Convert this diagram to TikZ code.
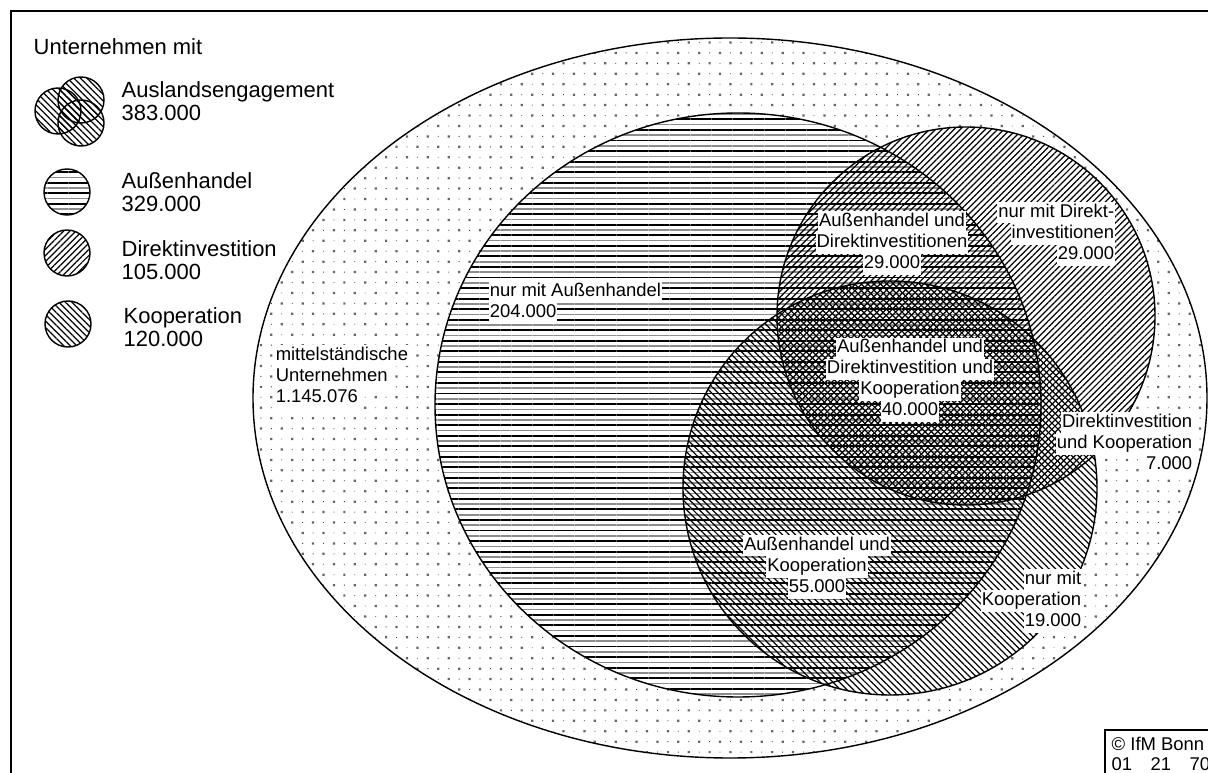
\documentclass[tikz,border=0pt]{standalone}
\usepackage{fontspec}
\setmainfont{Liberation Sans}
\usetikzlibrary{patterns.meta}

\setlength{\fboxsep}{0pt}
\newcommand{\hl}[1]{\colorbox{white}{\hspace{0.6pt}\strut#1\hspace{0.6pt}}}

\begin{document}
\begin{tikzpicture}[x=0.02cm, y=-0.02cm, line width=0.8pt]

\tikzstyle{mittel}=[pattern={Dots[angle=45, distance=8.4pt, radius=0.9pt]}, pattern color=black!60]
\tikzstyle{mittelfein}=[pattern={Dots[angle=45, distance=8.4pt, radius=0.35pt, xshift=5.94pt]}, pattern color=black!75]
\tikzstyle{aussen}=[pattern={Lines[angle=0, distance=6pt, line width=1.1pt]}]
\tikzstyle{aussengrau}=[pattern={Lines[angle=0, distance=6pt, line width=0.9pt, yshift=3pt]}, pattern color=black!45]
\tikzstyle{direkt}=[pattern={Lines[angle=45, distance=2.5pt, line width=0.7pt]}]
\tikzstyle{koop}=[pattern={Lines[angle=-45, distance=2.6pt, line width=0.7pt]}]
\tikzstyle{feld}=[inner sep=0pt, align=center, font=\fontsize{10.5}{12}\selectfont]
\tikzstyle{legende}=[inner sep=0pt, anchor=west, align=left, font=\fontsize{12.5}{13}\selectfont]

\useasboundingbox (0,0) rectangle (1208,773);
\draw (11,790) -- (11,11) -- (1220,11);

% centres of the sets
\coordinate (mittel) at (730,398);
\coordinate (aussen) at (738,405);
\coordinate (direkt) at (966,316);
\coordinate (koop) at (890,488);

% mittelstaendische Unternehmen
\path[mittel] (mittel) ellipse [x radius=477, y radius=360];
\path[mittelfein] (mittel) ellipse [x radius=477, y radius=360];

% the three sets, blank first, then hatched on top of each other
\fill[white] (aussen) ellipse [x radius=303, y radius=292];
\fill[white] (direkt) circle [radius=189];
\fill[white] (koop) circle [radius=207];
\path[aussengrau] (aussen) ellipse [x radius=303, y radius=292];
\path[aussen] (aussen) ellipse [x radius=303, y radius=292];
\path[direkt] (direkt) circle [radius=189];
\path[koop] (koop) circle [radius=207];

\draw (mittel) ellipse [x radius=477, y radius=360];
\draw (aussen) ellipse [x radius=303, y radius=292];
\draw (direkt) circle [radius=189];
\draw (koop) circle [radius=207];

% numbers
\node [feld, align=left, anchor=west] (n-mittel) at (274,377) {\hl{mittelständische}\\\hl{Unternehmen}\\\hl{1.145.076}};
\node [feld, align=left, anchor=west] (n-a) at (488,303) {\hl{nur mit Außenhandel}\\\hl{204.000}};
\node [feld] (n-ad) at (892,243) {\hl{Außenhandel und}\\\hl{Direktinvestitionen}\\\hl{29.000}};
\node [feld, align=right, anchor=east] (n-d) at (1116,234) {\hl{nur mit Direkt-}\\\hl{investitionen}\\\hl{29.000}};
\node [feld] (n-adk) at (910,380) {\hl{Außenhandel und}\\\hl{Direktinvestition und}\\\hl{Kooperation}\\\hl{40.000}};
\node [feld, align=right, anchor=east] (n-dk) at (1194,444) {\hl{Direktinvestition}\\\hl{und Kooperation}\\\hl{7.000}};
\node [feld] (n-ak) at (817,567) {\hl{Außenhandel und}\\\hl{Kooperation}\\\hl{55.000}};
\node [feld, align=right, anchor=east] (n-k) at (1083,601) {\hl{nur mit}\\\hl{Kooperation}\\\hl{19.000}};

% legend
\node [legende] (leg-titel) at (33,47) {Unternehmen mit};

\foreach \pos in {(58,111), (81,100), (81,123)}
  \fill[white] \pos circle [radius=23];
\foreach \pos in {(58,111), (81,100), (81,123)}
  \path[koop] \pos circle [radius=23];
\foreach \pos in {(58,111), (81,100), (81,123)}
  \draw \pos circle [radius=23];
\node [legende] (leg-ausland) at (121,101) {Auslandsengagement\\383.000};

\path[aussengrau] (67,192) circle [radius=23];
\draw[aussen] (67,192) circle [radius=23];
\node [legende] (leg-aussen) at (121,192) {Außenhandel\\329.000};

\draw[direkt] (67,253) circle [radius=23];
\node [legende] (leg-direkt) at (121,260) {Direktinvestition\\105.000};

\draw[koop] (68,324) circle [radius=23];
\node [legende] (leg-koop) at (123,327) {Kooperation\\120.000};

% source
\draw (1105,730) rectangle (1230,790);
\node [anchor=north west, align=left, inner sep=0pt,
  font=\fontsize{10.5}{11.5}\selectfont] (quelle) at (1111,736)
  {© IfM Bonn\\01\quad 21\quad 70};

\end{tikzpicture}
\end{document}
